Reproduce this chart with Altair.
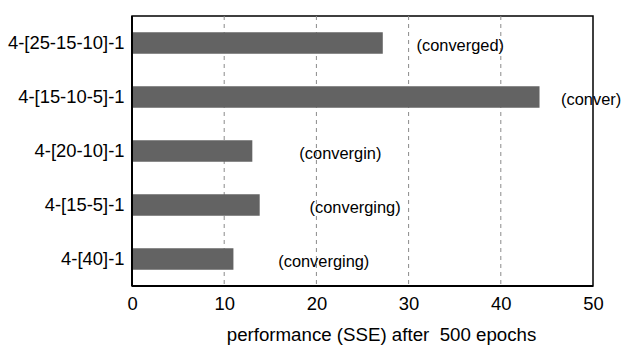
import altair as alt
import pandas as pd

networks = ["4-[25-15-10]-1", "4-[15-10-5]-1", "4-[20-10]-1", "4-[15-5]-1", "4-[40]-1"]
sse = [27.2, 44.2, 13.05, 13.85, 11.0]
status = ["(converged)", "(conver)", "(convergin)", "(converging)", "(converging)"]
status_x = [35.6, 49.8, 22.6, 24.2, 20.8]

df = pd.DataFrame({"net": networks, "sse": sse, "status": status, "sx": status_x})

FONT = "Liberation Sans"

y_enc = alt.Y("net:N", sort=networks, title=None,
              scale=alt.Scale(paddingInner=0.6, paddingOuter=0.3),
              axis=alt.Axis(labelFont=FONT, labelFontSize=18.4, labelColor="black",
                            ticks=False, domain=False, labelPadding=8, grid=False))

bars = alt.Chart(df).mark_bar(color="#636363").encode(
    x=alt.X("sse:Q", scale=alt.Scale(domain=[0, 50], nice=False),
            title="performance (SSE) after\u00a0 500 epochs",
            axis=alt.Axis(values=[0, 10, 20, 30, 40, 50], labelFont=FONT, labelFontSize=18.4,
                          labelColor="black", ticks=False, domain=False, labelFlush=False,
                          labelOverlap=False,
                          labelPadding=8, titleFont=FONT, titleFontSize=18.7,
                          titleFontWeight="normal", titleColor="black", titlePadding=13,
                          titleX=249,
                          grid=False)),
    y=y_enc,
)

grid_df = pd.DataFrame({"g": [10, 20, 30, 40]})
grid = alt.Chart(grid_df).mark_rule(color="#8a8a8a", strokeDash=[4, 4], strokeWidth=1).encode(
    x=alt.X("g:Q", scale=alt.Scale(domain=[0, 50], nice=False))
)

labels = alt.Chart(df).mark_text(font=FONT, fontSize=16.4, color="black", align="center", dy=3).encode(
    x=alt.X("sx:Q"),
    y=alt.Y("net:N", sort=networks),
    text="status:N",
)

left = alt.Chart(df).mark_rule(color="black", strokeWidth=2).encode(
    x=alt.value(0), y=alt.value(0), y2=alt.value(270))
bottom = alt.Chart(df).mark_rule(color="black", strokeWidth=2).encode(
    x=alt.value(0), x2=alt.value(461), y=alt.value(270))

chart = alt.layer(grid, bars, labels, left, bottom).properties(
    width=461, height=270,
    autosize=alt.AutoSizeParams(type="none"),
    padding={"left": 132, "top": 16, "right": 29, "bottom": 61},
).configure_view(stroke="black", strokeWidth=1.5)

chart.save("out.html", embed_options={"renderer": "svg", "actions": False})
